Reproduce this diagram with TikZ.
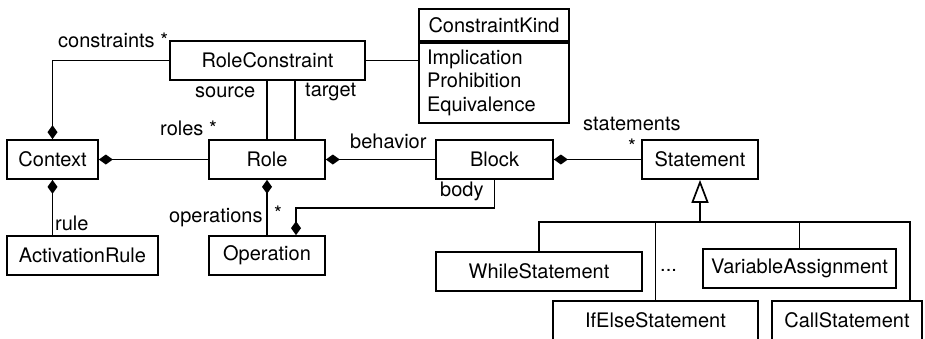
\documentclass[tikz,border=0pt]{standalone}
\usepackage{fontspec}
\setmainfont{TeX Gyre Heros}
\usetikzlibrary{arrows.meta,calc}
\tikzset{
  umlclass/.style={draw, line width=1.7pt, minimum height=39pt, inner sep=0pt,
                   font=\fontsize{20}{24}\selectfont},
  enumhead/.style={draw, line width=1.7pt, minimum width=150pt, minimum height=32pt,
                   inner sep=0pt, font=\fontsize{20}{24}\selectfont},
  enumbody/.style={draw, line width=1.7pt, text width=134pt, inner xsep=8pt,
                   inner ysep=0pt, minimum height=80pt, align=left,
                   font=\fontsize{20}{23.5}\selectfont},
  rolelabel/.style={inner sep=0pt, anchor=west, font=\fontsize{20}{24}\selectfont},
  plainline/.style={line width=1.7pt},
  compline/.style={line width=1.7pt, {Diamond[length=14pt,width=10pt]}-},
  genline/.style={line width=1.7pt, {Triangle[open,length=23pt,width=17pt,fill=white]}-}
}

\begin{document}
\begin{tikzpicture}[x=1pt, y=-1pt]
  \useasboundingbox (0,0) rectangle (925,338);

  % classes
  \node[umlclass, minimum width=195pt] (rc)    at (267.5, 60.5)  {RoleConstraint};
  \node[enumhead]                      (ckhead) at (494, 25)      {ConstraintKind};
  \node[enumbody, anchor=north]        (ckbody) at (ckhead.south) {Implication\\Prohibition\\Equivalence};
  \node[umlclass, minimum width=91pt]  (ctx)   at (52.5, 159.5)  {Context};
  \node[umlclass, minimum width=116pt] (role)  at (267, 159.5)   {Role};
  \node[umlclass, minimum width=117pt] (block) at (494.5, 159.5) {Block};
  \node[umlclass, minimum width=116pt] (stmt)  at (700, 159.5)   {Statement};
  \node[umlclass, minimum width=151pt] (act)   at (82.5, 255.5)  {ActivationRule};
  \node[umlclass, minimum width=116pt] (op)    at (267, 255.5)   {Operation};

  % statement kinds
  \node[umlclass, minimum width=206pt] (while)  at (539, 271.5)   {WhileStatement};
  \node[umlclass, minimum width=193pt] (varas)  at (799.5, 268.5) {VariableAssignment};
  \node[umlclass, minimum width=205pt] (ifelse) at (655.5, 320.5) {IfElseStatement};
  \node[umlclass, minimum width=150pt] (call)   at (847, 320.5)   {CallStatement};
  \node[rolelabel] (dots) at (660, 270) {...};

  % associations
  \draw[compline] (ctx.north) |- (rc.west);
  \draw[plainline] (rc.east) -- (rc.east -| ckbody.west);
  \draw[plainline] (role.north) -- (role.north |- rc.south);
  \draw[plainline] ($(role.north)+(28,0)$) -- ($(role.north |- rc.south)+(28,0)$);
  \draw[compline] (ctx.east) -- (role.west);
  \draw[compline] (role.east) -- (block.west);
  \draw[compline] (block.east) -- (stmt.west);
  \draw[compline] (ctx.south) -- (ctx.south |- act.north);
  \draw[compline] (role.south) -- (op.north);
  \coordinate (bodyend) at ($(op.north)+(29,0)$);
  \coordinate (bodyjog) at ($(block.south)+(0,28)$);
  \draw[compline] (bodyend) -- (bodyend |- bodyjog) -| (block.south);

  % generalization
  \coordinate (genleft)  at (539, 222);
  \coordinate (genright) at (910, 222);
  \draw[genline] (stmt.south) -- (stmt.south |- genleft);
  \draw[plainline] (while.north) -- (while.north |- genleft) -- (genright)
                   -- (genright |- call.north);
  \draw[plainline] (ifelse.north) -- (ifelse.north |- genleft);
  \draw[plainline] (varas.north) -- (varas.north |- genleft);

  % role names
  \node[rolelabel] at (58, 40)   {constraints *};
  \node[rolelabel] at (195, 92)  {source};
  \node[rolelabel] at (305, 92)  {target};
  \node[rolelabel] at (160, 128) {roles *};
  \node[rolelabel] at (350, 141) {behavior};
  \node[rolelabel] at (583, 124) {statements};
  \node[rolelabel] at (628, 146) {*};
  \node[rolelabel] at (440, 191) {body};
  \node[rolelabel] at (55, 223)  {rule};
  \node[rolelabel] at (169, 218) {operations};
  \node[rolelabel] at (274, 213) {*};
\end{tikzpicture}
\end{document}
